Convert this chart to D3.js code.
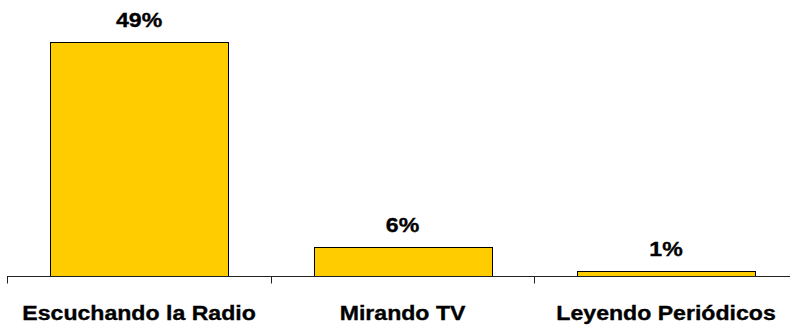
<!DOCTYPE html>
<html>
<head>
<meta charset="utf-8">
<script src="https://cdn.jsdelivr.net/npm/d3@7/dist/d3.min.js"></script>
<style>
  html, body { margin: 0; padding: 0; background: #fff; }
  svg { display: block; }
  text { font-family: "Liberation Sans", Arial, sans-serif; font-weight: bold; fill: #000; stroke: #000; stroke-width: 0.35px; }
</style>
</head>
<body>
<svg id="chart" width="790" height="325"></svg>
<script>
const categories = ["Escuchando la Radio", "Mirando TV", "Leyendo Periódicos"];
const values = [49, 6, 1];
const valueLabels = ["49%", "6%", "1%"];

const svg = d3.select("#chart");
const x = d3.scaleBand()
  .domain(categories)
  .range([7.3, 797.8])
  .paddingInner(0.325)
  .paddingOuter(0.1625);
const y = d3.scaleLinear().domain([0, 49]).range([276, 42]);

// bars
svg.selectAll("rect.bar")
  .data(categories)
  .join("rect")
  .attr("class", "bar")
  .attr("x", d => Math.round(x(d)) + 0.5)
  .attr("y", (d, i) => Math.round(y(values[i])) + 0.5)
  .attr("width", Math.round(x.bandwidth()))
  .attr("height", (d, i) => Math.round(y(0)) - Math.round(y(values[i])))
  .attr("fill", "#FFCC00")
  .attr("stroke", "#000")
  .attr("stroke-width", 1);

// axis line
const axisY = Math.round(y(0)) + 0.5;
svg.append("line")
  .attr("x1", 7).attr("x2", 800)
  .attr("y1", axisY).attr("y2", axisY)
  .attr("stroke", "#222").attr("stroke-width", 1);

// tick marks at band boundaries
const bounds = d3.range(categories.length + 1).map(i => x.range()[0] + i * x.step());
svg.selectAll("line.tick")
  .data(bounds)
  .join("line")
  .attr("class", "tick")
  .attr("x1", d => Math.round(d) + 0.5).attr("x2", d => Math.round(d) + 0.5)
  .attr("y1", axisY).attr("y2", axisY + 7)
  .attr("stroke", "#222").attr("stroke-width", 1);

// value labels
svg.selectAll("text.val")
  .data(categories)
  .join("text")
  .attr("class", "val")
  .attr("text-anchor", "middle")
  .attr("font-size", 21)
  .attr("transform", (d, i) => `translate(${x(d) + x.bandwidth() / 2},${y(values[i]) - 15}) scale(1.1,1)`)
  .text((d, i) => valueLabels[i]);

// category labels
svg.selectAll("text.cat")
  .data(categories)
  .join("text")
  .attr("class", "cat")
  .attr("text-anchor", "middle")
  .attr("font-size", 21)
  .attr("transform", d => `translate(${x(d) + x.bandwidth() / 2},319.5) scale(1.1,1)`)
  .text(d => d);
</script>
</body>
</html>
